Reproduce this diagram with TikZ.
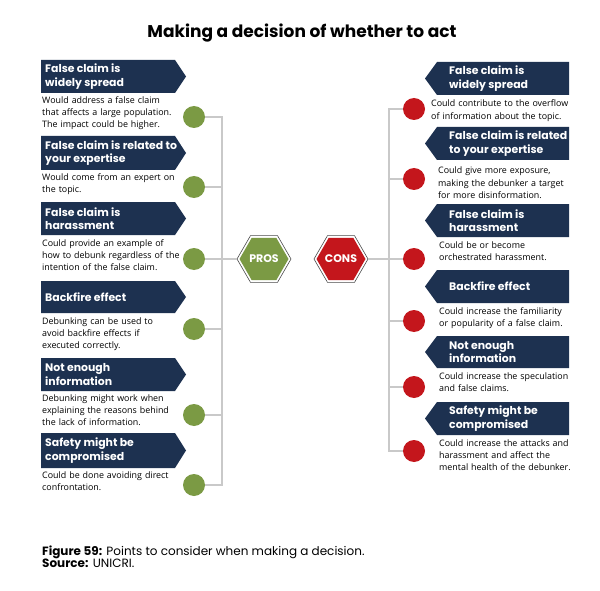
\documentclass[tikz,border=0pt]{standalone}
\usepackage{fontspec}
\setmainfont{Open Sans}
\newfontfamily\headfont{Poppins}
\usetikzlibrary{shapes.geometric}
\definecolor{navy}{HTML}{1D3150}
\definecolor{pgreen}{HTML}{7B9A44}
\definecolor{cred}{HTML}{C4161C}
\definecolor{lgray}{HTML}{C9C9C9}
\definecolor{hexgray}{HTML}{4A4A4A}
\newcommand{\lbanner}[4]{% top, bottom, text, name
  \fill[navy] (41,#1) -- (175,#1) -- (186,{(#1+#2)/2}) -- (175,#2) -- (41,#2) -- cycle;
  \node[head] (#4) at (45,{(#1+#2)/2}) {#3};}
\newcommand{\rbanner}[4]{%
  \fill[navy] (569,#1) -- (437,#1) -- (425,{(#1+#2)/2}) -- (437,#2) -- (569,#2) -- cycle;
  \node[head] (#4) at (449,{(#1+#2)/2}) {#3};}
\begin{document}
\begin{tikzpicture}[x=1pt,y=-1pt,
  head/.style={font=\headfont\bfseries\fontsize{10.9}{13.3}\selectfont, text=white, align=left, anchor=west, inner sep=0},
  desc/.style={font=\fontsize{8.9}{12.2}\selectfont, align=left, anchor=base west, inner sep=0, text width=170},
  dotp/.style={circle, fill=pgreen, minimum size=22, inner sep=0},
  dotc/.style={circle, fill=cred, minimum size=22, inner sep=0},
  hexo/.style={regular polygon, regular polygon sides=6, minimum size=54, inner sep=0, draw=hexgray, line width=0.6, fill=white},
  hexi/.style={regular polygon, regular polygon sides=6, minimum size=49, inner sep=0},
  hext/.style={font=\headfont\bfseries\fontsize{11}{12}\selectfont, text=white, inner sep=0},
  capt/.style={font=\headfont\fontsize{12}{13}\selectfont, anchor=base west, inner sep=0},
  link/.style={draw=lgray, line width=1.1}]
\useasboundingbox[fill=white] (0,0) rectangle (600,591);

\node[font=\headfont\bfseries\fontsize{17}{20}\selectfont, anchor=base] (title) at (302,37.5) {Making a decision of whether to act};

% left side
\lbanner{60}{93}{False claim is\\widely spread}{lh1}
\lbanner{136}{170}{False claim is related to\\your expertise}{lh2}
\lbanner{202}{235}{False claim is\\harassment}{lh3}
\lbanner{281}{313}{Backfire effect}{lh4}
\lbanner{358}{391}{Not enough\\information}{lh5}
\lbanner{433}{468}{Safety might be\\compromised}{lh6}

\node[desc] (ld1) at (42,103.5) {Would address a false claim\\that affects a large population.\\The impact could be higher.};
\node[desc] (ld2) at (42,180) {Would come from an expert on\\the topic.};
\node[desc] (ld3) at (42,246) {Could provide an example of\\how to debunk regardless of the\\intention of the false claim.};
\node[desc] (ld4) at (42,324.5) {Debunking can be used to\\avoid backfire effects if\\executed correctly.};
\node[desc] (ld5) at (42,401) {Debunking might work when\\explaining the reasons behind\\the lack of information.};
\node[desc] (ld6) at (42,478.5) {Could be done avoiding direct\\confrontation.};

\node[dotp] (p1) at (194,117) {};
\node[dotp] (p2) at (194,187) {};
\node[dotp] (p3) at (194,259) {};
\node[dotp] (p4) at (194,329) {};
\node[dotp] (p5) at (194,415) {};
\node[dotp] (p6) at (194,485) {};

% right side
\rbanner{62}{95}{False claim is\\widely spread}{rh1}
\rbanner{127}{160}{False claim is related\\to your expertise}{rh2}
\rbanner{204}{237}{False claim is\\harassment}{rh3}
\rbanner{270}{303}{Backfire effect}{rh4}
\rbanner{336}{368}{Not enough\\information}{rh5}
\rbanner{402}{435}{Safety might be\\compromised}{rh6}

\node[desc] (rd1) at (431,107) {Could contribute to the overflow\\of information about the topic.};
\node[desc] (rd2) at (438,174) {Could give more exposure,\\making the debunker a target\\for more disinformation.};
\node[desc] (rd3) at (439,248.5) {Could be or become\\orchestrated harassment.};
\node[desc] (rd4) at (439,314) {Could increase the familiarity\\or popularity of a false claim.};
\node[desc] (rd5) at (439,379.5) {Could increase the speculation\\and false claims.};
\node[desc] (rd6) at (439,446) {Could increase the attacks and\\harassment and affect the\\mental health of the debunker.};

\node[dotc] (c1) at (414,109) {};
\node[dotc] (c2) at (414,179) {};
\node[dotc] (c3) at (414,259) {};
\node[dotc] (c4) at (414,321) {};
\node[dotc] (c5) at (414,387) {};
\node[dotc] (c6) at (414,451) {};

% hexagons
\node[hexo] (pros) at (264,259) {};
\node[hexi, fill=pgreen] at (pros) {};
\node[hext] (prost) at (pros) {PROS};
\node[hexo] (cons) at (341,259) {};
\node[hexi, fill=cred] at (cons) {};
\node[hext] (const) at (cons) {CONS};

% connectors
\coordinate (lt) at (222,117);
\coordinate (lb) at (222,485);
\draw[link] (p1.east) -- (lt) -- (lb) -- (p6.east);
\foreach \k in {2,3,4,5} \draw[link] (p\k.east) -- (p\k.east -| lt);
\draw[link] (pros.west) -- (pros.west -| lt);
\coordinate (rt) at (389,109);
\coordinate (rb) at (389,451);
\draw[link] (c1.west) -- (rt) -- (rb) -- (c6.west);
\foreach \k in {2,3,4,5} \draw[link] (c\k.west) -- (c\k.west -| rt);
\draw[link] (cons.east) -- (cons.east -| rt);

% caption
\node[capt] (cap) at (42,555) {\textbf{Figure 59:} Points to consider when making a decision.};
\node[capt] (src) at (42,567.5) {\textbf{Source:} UNICRI.};
\end{tikzpicture}
\end{document}
